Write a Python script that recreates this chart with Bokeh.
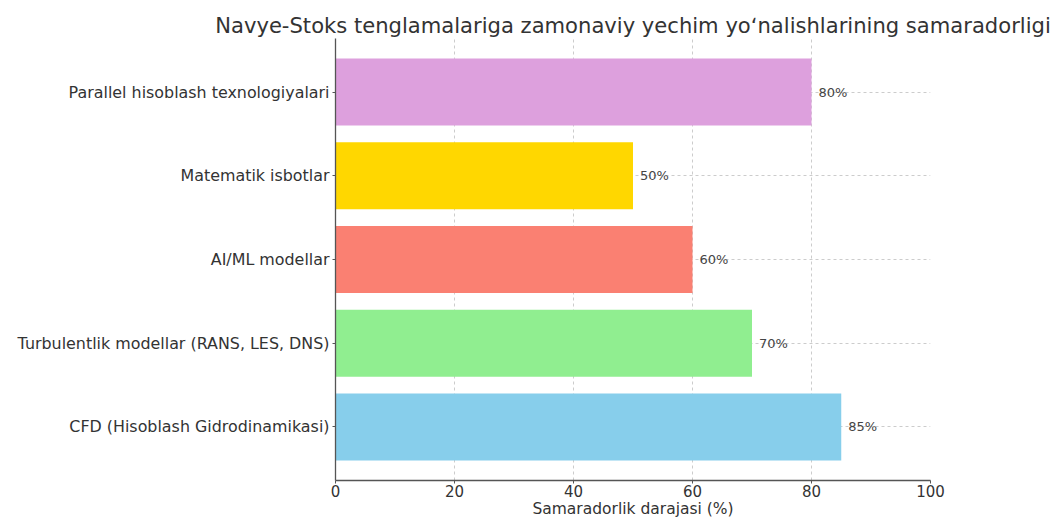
from bokeh.plotting import figure
from bokeh.models import Range1d, FixedTicker, ColumnDataSource
from bokeh.core.properties import value
from bokeh.embed import file_html
from bokeh.resources import INLINE

categories = ["CFD (Hisoblash Gidrodinamikasi)", "Turbulentlik modellar (RANS, LES, DNS)",
              "AI/ML modellar", "Matematik isbotlar", "Parallel hisoblash texnologiyalari"]
values = [85, 70, 60, 50, 80]
colors = ["#87CEEB", "#90EE90", "#FA8072", "#FFD700", "#DDA0DD"]
x_ticks = [0, 20, 40, 60, 80, 100]

ypos = list(range(len(categories)))
src = ColumnDataSource(dict(y=ypos, v=values, c=colors,
                            lab=[f"{v}%" for v in values]))

FONT = "DejaVu Sans"
p = figure(width=1056, height=520, output_backend="svg", toolbar_location=None,
           x_range=Range1d(0, 100), y_range=Range1d(-0.64, 4.64),
           min_border_left=335, min_border_right=126, min_border_top=38, min_border_bottom=39)
p.outline_line_color = None
p.background_fill_color = "white"
p.border_fill_color = "white"

p.title.text = "Navye-Stoks tenglamalariga zamonaviy yechim yo\u02bbnalishlarining samaradorligi"
p.title.align = "center"
p.title.text_font = FONT
p.title.text_font_size = "21.1px"
p.title.text_font_style = "normal"
p.title.text_color = "#333333"
p.title.offset = 0
p.title.standoff = 2

p.hbar(y="y", right="v", left=0, height=0.8, fill_color="c", line_color=None, source=src)
p.text(x="v", y="y", text="lab", source=src, x_offset=7, text_baseline="middle",
       text_align="left", text_font=value(FONT), text_font_size="13px", text_color="#444444")

p.xaxis.ticker = FixedTicker(ticks=x_ticks)
p.yaxis.ticker = FixedTicker(ticks=ypos)
p.yaxis.major_label_overrides = {i: c for i, c in enumerate(categories)}
p.xaxis.axis_label = "Samaradorlik darajasi (%)"

for ax in (p.xaxis, p.yaxis):
    ax.axis_line_color = "#555555"
    ax.axis_line_width = 1.3
    ax.major_tick_line_color = "#555555"
    ax.major_tick_in = 0
    ax.major_tick_out = 3
    ax.minor_tick_line_color = None
    ax.major_label_text_font = FONT
    ax.major_label_text_color = "#333333"
p.xaxis.major_label_text_font_size = "15px"
p.yaxis.major_label_text_font_size = "15.9px"
p.yaxis.major_label_standoff = 3
p.xaxis.major_label_standoff = 1
p.xaxis.axis_label_text_font = FONT
p.xaxis.axis_label_text_font_size = "15.5px"
p.xaxis.axis_label_text_font_style = "normal"
p.xaxis.axis_label_text_color = "#333333"
p.xaxis.axis_label_standoff = 0

p.xgrid.grid_line_color = "#cccccc"
p.xgrid.grid_line_dash = "3 3"
p.ygrid.grid_line_color = "#cccccc"
p.ygrid.grid_line_dash = "3 3"

open("out.html", "w").write(file_html(p, INLINE))
